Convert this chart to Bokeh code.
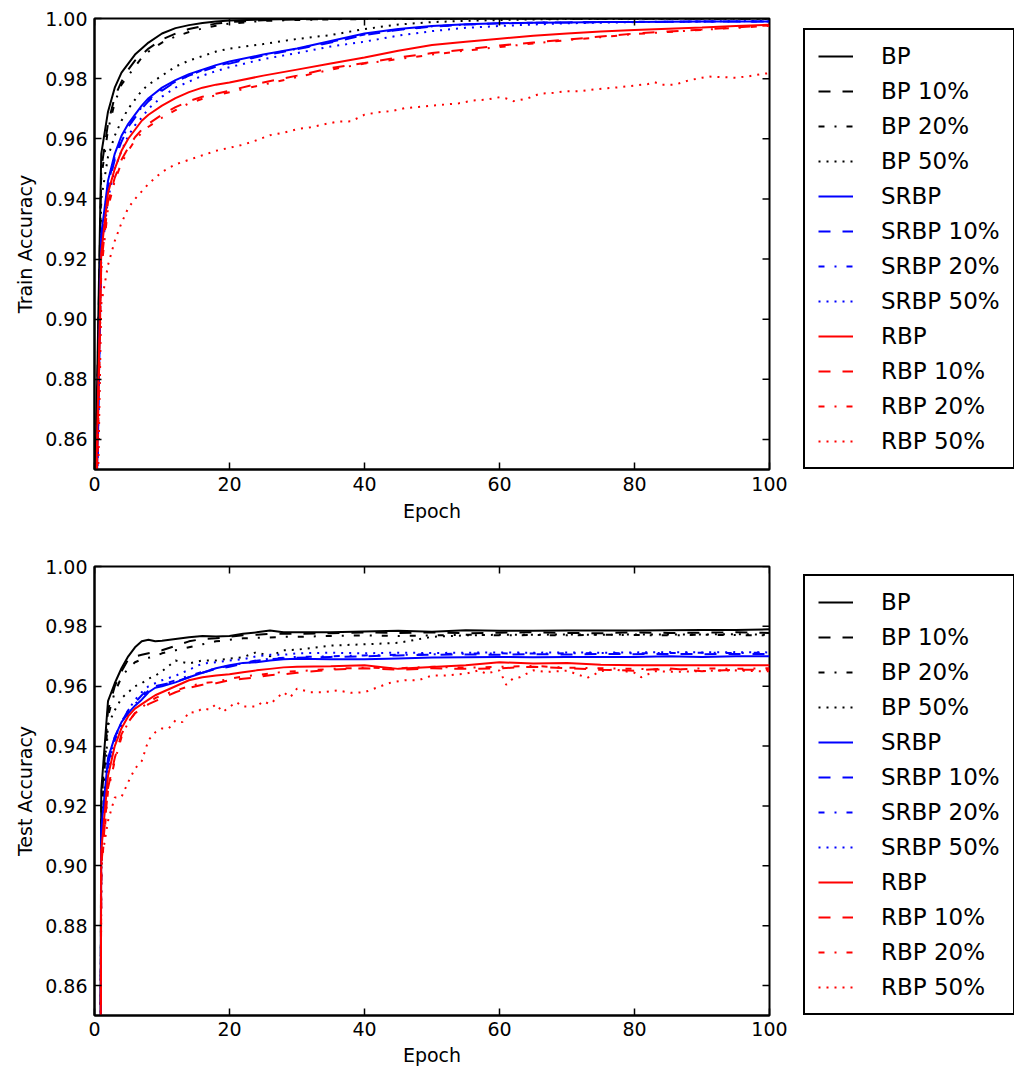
import math
from bokeh.plotting import figure
from bokeh.models import Range1d, FixedTicker, PrintfTickFormatter, Legend, LegendItem
from bokeh.layouts import column, row
from bokeh.embed import file_html
from bokeh.resources import INLINE

# ---------------- data ----------------
series_labels = ["BP", "BP 10%", "BP 20%", "BP 50%",
                 "SRBP", "SRBP 10%", "SRBP 20%", "SRBP 50%",
                 "RBP", "RBP 10%", "RBP 20%", "RBP 50%"]
x_ticks = [0, 20, 40, 60, 80, 100]
y_ticks = [0.86, 0.88, 0.90, 0.92, 0.94, 0.96, 0.98, 1.00]

# training accuracy (epochs shared by the first 11 series)
ep_train = [0, 1, 2, 3, 4, 5, 6, 7, 8, 10, 12, 14, 16, 18, 20, 25, 30, 35, 40,
            45, 50, 55, 60, 65, 70, 75, 80, 85, 90, 95, 100]
train_bp = [0.830, 0.955, 0.969, 0.977, 0.982, 0.985, 0.988, 0.990, 0.992, 0.995, 0.9968,
            0.9978, 0.9985, 0.9990, 0.9993, 0.9997, 0.9998, 0.9999, 0.9999, 0.9999, 0.9999,
            1.0, 1.0, 1.0, 1.0, 1.0, 1.0, 1.0, 1.0, 1.0, 1.0]
train_bp10 = [0.825, 0.950, 0.965, 0.974, 0.979, 0.983, 0.986, 0.988, 0.990, 0.993, 0.995,
              0.9965, 0.9975, 0.9983, 0.9988, 0.9994, 0.9997, 0.9998, 0.9999, 0.9999, 0.9999,
              1.0, 1.0, 1.0, 1.0, 1.0, 1.0, 1.0, 1.0, 1.0, 1.0]
train_bp20 = [0.820, 0.947, 0.963, 0.972, 0.978, 0.981, 0.984, 0.987, 0.989, 0.992, 0.994,
              0.9955, 0.9967, 0.9976, 0.9983, 0.9992, 0.9995, 0.9997, 0.9998, 0.9999, 0.9999,
              0.9999, 1.0, 1.0, 1.0, 1.0, 1.0, 1.0, 1.0, 1.0, 1.0]
train_bp50 = [0.810, 0.940, 0.954, 0.961, 0.966, 0.970, 0.973, 0.976, 0.978, 0.981, 0.984,
              0.986, 0.9875, 0.989, 0.990, 0.9915, 0.9932, 0.9945, 0.9965, 0.998, 0.9988,
              0.9992, 0.9995, 0.9997, 0.9998, 0.9998, 0.9999, 0.9999, 0.9999, 0.9999, 0.9999]
train_srbp = [0.800, 0.928, 0.946, 0.955, 0.961, 0.965, 0.968, 0.971, 0.9735, 0.977, 0.9795,
              0.9815, 0.983, 0.9845, 0.9857, 0.988, 0.990, 0.9925, 0.995, 0.9965, 0.9975,
              0.9981, 0.9984, 0.9986, 0.9987, 0.9988, 0.9988, 0.9989, 0.999, 0.999, 0.999]
train_srbp10 = [0.790, 0.925, 0.944, 0.953, 0.959, 0.964, 0.967, 0.970, 0.9725, 0.976, 0.979,
                0.981, 0.9825, 0.984, 0.985, 0.9877, 0.9898, 0.992, 0.9945, 0.9962, 0.9973,
                0.998, 0.9984, 0.9986, 0.9987, 0.9988, 0.9988, 0.9989, 0.999, 0.999, 0.999]
train_srbp20 = [0.790, 0.926, 0.945, 0.954, 0.960, 0.964, 0.9675, 0.9705, 0.973, 0.9765, 0.979,
                0.981, 0.9828, 0.9842, 0.9853, 0.9878, 0.9899, 0.9922, 0.9947, 0.9963, 0.9974,
                0.998, 0.9984, 0.9986, 0.9987, 0.9988, 0.9989, 0.9989, 0.999, 0.999, 0.999]
train_srbp50 = [0.780, 0.920, 0.940, 0.950, 0.956, 0.961, 0.9645, 0.967, 0.970, 0.974, 0.977,
                0.979, 0.981, 0.9825, 0.9838, 0.9865, 0.9885, 0.9907, 0.9923, 0.9943, 0.9958,
                0.9969, 0.9975, 0.998, 0.9984, 0.9986, 0.9988, 0.9989, 0.999, 0.9991, 0.9992]
train_rbp = [0.820, 0.922, 0.942, 0.950, 0.956, 0.960, 0.963, 0.966, 0.968, 0.971, 0.9735,
             0.9755, 0.977, 0.978, 0.9787, 0.981, 0.983, 0.985, 0.987, 0.9893, 0.9912,
             0.9923, 0.9933, 0.9943, 0.995, 0.9957, 0.9962, 0.9966, 0.997, 0.9975, 0.9979]
train_rbp10 = [0.810, 0.918, 0.939, 0.947, 0.953, 0.957, 0.9605, 0.963, 0.965, 0.968, 0.9705,
               0.9725, 0.974, 0.975, 0.976, 0.9787, 0.981, 0.9835, 0.9852, 0.987, 0.9885,
               0.9897, 0.991, 0.992, 0.993, 0.994, 0.995, 0.9957, 0.9963, 0.997, 0.9977]
train_rbp20 = [0.800, 0.916, 0.937, 0.946, 0.952, 0.956, 0.9595, 0.962, 0.964, 0.967, 0.9695,
               0.9718, 0.9733, 0.9745, 0.9755, 0.978, 0.9805, 0.983, 0.985, 0.9865, 0.988,
               0.9893, 0.9905, 0.9917, 0.9928, 0.9938, 0.9948, 0.9955, 0.9962, 0.9969, 0.9976]
ep_train_rbp50 = [0, 1, 2, 3, 4, 5, 6, 7, 8, 9, 10, 12, 14, 16, 18, 20, 22, 24, 26, 28, 30,
                  32, 34, 36, 38, 40, 42, 44, 46, 48, 50, 52, 54, 56, 58, 60, 61, 62, 64, 66,
                  68, 70, 72, 74, 76, 78, 80, 82, 83, 84, 86, 88, 90, 91, 93, 95, 97, 99, 100]
train_rbp50 = [0.780, 0.905, 0.918, 0.926, 0.932, 0.937, 0.940, 0.9425, 0.945, 0.947, 0.949,
               0.9515, 0.953, 0.9545, 0.956, 0.957, 0.958, 0.9595, 0.9612, 0.962, 0.9632,
               0.9638, 0.9648, 0.9657, 0.9658, 0.968, 0.9688, 0.9692, 0.9702, 0.9706, 0.971,
               0.9714, 0.9718, 0.9727, 0.973, 0.9738, 0.9734, 0.9725, 0.9733, 0.975, 0.9753,
               0.9758, 0.9758, 0.9764, 0.9768, 0.9772, 0.9777, 0.9782, 0.9788, 0.978, 0.978,
               0.9794, 0.9803, 0.9807, 0.9805, 0.9803, 0.9808, 0.9816, 0.9818]

# test accuracy
ep_test = [0, 1, 2, 3, 4, 5, 6, 7, 8, 9, 10, 12, 14, 16, 18, 20, 22, 24, 26, 28, 30,
           35, 40, 45, 50, 55, 60, 65, 70, 75, 80, 85, 90, 95, 100]
test_bp = [0.10, 0.925, 0.955, 0.961, 0.966, 0.970, 0.973, 0.975, 0.9755, 0.975, 0.9752,
           0.9758, 0.9764, 0.9768, 0.9766, 0.9768, 0.9775, 0.978, 0.9786, 0.978, 0.978,
           0.978, 0.9783, 0.9785, 0.9782, 0.9787, 0.9785, 0.9785, 0.9786, 0.9786, 0.9786,
           0.9787, 0.9788, 0.9788, 0.979]
test_bp10 = [0.10, 0.920, 0.952, 0.960, 0.965, 0.969, 0.970, 0.9705, 0.971, 0.9715, 0.972,
             0.9735, 0.975, 0.9758, 0.976, 0.9765, 0.977, 0.9772, 0.9775, 0.9775, 0.9775,
             0.9777, 0.978, 0.9778, 0.978, 0.9777, 0.9779, 0.978, 0.9778, 0.9777, 0.978,
             0.9778, 0.9779, 0.978, 0.9778]
test_bp20 = [0.10, 0.915, 0.950, 0.958, 0.963, 0.966, 0.968, 0.969, 0.9695, 0.970, 0.971,
             0.972, 0.973, 0.974, 0.975, 0.9755, 0.976, 0.9762, 0.9763, 0.9765, 0.9765,
             0.9768, 0.977, 0.9768, 0.977, 0.9772, 0.977, 0.9771, 0.977, 0.9772, 0.9771,
             0.977, 0.9772, 0.9771, 0.977]
test_bp50 = [0.10, 0.905, 0.947, 0.952, 0.956, 0.958, 0.960, 0.961, 0.9625, 0.9635, 0.965,
             0.9686, 0.9676, 0.9686, 0.9686, 0.9692, 0.9697, 0.9714, 0.970, 0.972, 0.9722,
             0.9736, 0.974, 0.9745, 0.9765, 0.977, 0.9772, 0.9772, 0.9773, 0.9772, 0.9773,
             0.9773, 0.9773, 0.9774, 0.9772]
test_srbp = [0.10, 0.912, 0.936, 0.943, 0.948, 0.951, 0.9535, 0.9555, 0.958, 0.9595, 0.960,
             0.9613, 0.963, 0.9645, 0.966, 0.967, 0.9678, 0.968, 0.9686, 0.969, 0.9692,
             0.969, 0.969, 0.9693, 0.9696, 0.9697, 0.9698, 0.9697, 0.9698, 0.9698, 0.9698,
             0.970, 0.9698, 0.970, 0.970]
test_srbp10 = [0.10, 0.908, 0.934, 0.943, 0.948, 0.952, 0.9545, 0.957, 0.959, 0.960, 0.9605,
               0.9615, 0.963, 0.9645, 0.9658, 0.9665, 0.9675, 0.9685, 0.969, 0.9693, 0.9695,
               0.9698, 0.970, 0.9703, 0.9705, 0.9706, 0.9705, 0.9707, 0.9706, 0.9708, 0.9707,
               0.9708, 0.9707, 0.9708, 0.9708]
test_srbp20 = [0.10, 0.906, 0.933, 0.942, 0.947, 0.951, 0.954, 0.9565, 0.9585, 0.9598, 0.9605,
               0.962, 0.9635, 0.9648, 0.966, 0.9668, 0.9677, 0.9686, 0.9692, 0.9695, 0.9698,
               0.970, 0.9703, 0.9705, 0.9707, 0.9709, 0.971, 0.9709, 0.971, 0.9711, 0.971,
               0.9711, 0.9712, 0.9711, 0.9712]
test_srbp50 = [0.10, 0.905, 0.932, 0.942, 0.948, 0.952, 0.9555, 0.958, 0.960, 0.961, 0.962,
               0.9635, 0.9655, 0.9676, 0.968, 0.9686, 0.969, 0.970, 0.9705, 0.9705, 0.971,
               0.9712, 0.971, 0.9712, 0.9711, 0.9712, 0.9713, 0.9712, 0.9713, 0.9712, 0.9713,
               0.9714, 0.9713, 0.9714, 0.9713]
test_rbp = [0.10, 0.905, 0.930, 0.940, 0.946, 0.950, 0.9525, 0.954, 0.9555, 0.957, 0.958,
            0.960, 0.962, 0.963, 0.9636, 0.964, 0.9647, 0.9653, 0.9658, 0.9663, 0.9665,
            0.9667, 0.967, 0.9658, 0.9664, 0.967, 0.968, 0.9676, 0.9678, 0.9672, 0.967,
            0.967, 0.967, 0.967, 0.967]
test_rbp10 = [0.10, 0.900, 0.926, 0.936, 0.944, 0.948, 0.951, 0.9525, 0.954, 0.955, 0.956,
              0.958, 0.9595, 0.9605, 0.961, 0.962, 0.9625, 0.963, 0.9637, 0.964, 0.9645,
              0.9655, 0.966, 0.9655, 0.966, 0.9658, 0.966, 0.9665, 0.966, 0.9655, 0.9652,
              0.966, 0.965, 0.9655, 0.9655]
test_rbp20 = [0.10, 0.898, 0.925, 0.935, 0.943, 0.948, 0.951, 0.953, 0.9545, 0.956, 0.957,
              0.9585, 0.960, 0.961, 0.9615, 0.9625, 0.9632, 0.9638, 0.9642, 0.9648, 0.965,
              0.9658, 0.9662, 0.966, 0.9665, 0.9662, 0.9665, 0.9668, 0.9662, 0.966, 0.9658,
              0.9655, 0.966, 0.9658, 0.966]
ep_test_rbp50 = [0, 1, 2, 3, 4, 5, 6, 7, 8, 9, 10, 11, 12, 13, 14, 15, 16, 17, 18, 19, 21,
                 22, 24, 25, 26, 28, 29, 30, 32, 34, 36, 38, 40, 42, 44, 46, 48, 50, 52, 55,
                 57, 58, 60, 61, 62, 63, 65, 67, 70, 73, 75, 77, 80, 81, 83, 86, 89, 92, 95,
                 98, 100]
test_rbp50 = [0.10, 0.901, 0.915, 0.9228, 0.923, 0.928, 0.9325, 0.935, 0.942, 0.9446, 0.9459,
              0.9459, 0.9486, 0.948, 0.9514, 0.9512, 0.9526, 0.9522, 0.954, 0.9514, 0.9547,
              0.9532, 0.9532, 0.955, 0.954, 0.958, 0.9563, 0.9592, 0.958, 0.958, 0.9586,
              0.9578, 0.958, 0.9597, 0.9613, 0.962, 0.962, 0.9636, 0.9636, 0.9642, 0.9653,
              0.9642, 0.9653, 0.9605, 0.9626, 0.963, 0.9653, 0.9648, 0.9652, 0.9628, 0.965,
              0.9656, 0.9645, 0.963, 0.965, 0.9648, 0.965, 0.9652, 0.9653, 0.965, 0.965]

train_series = [(ep_train, train_bp), (ep_train, train_bp10), (ep_train, train_bp20),
                (ep_train, train_bp50), (ep_train, train_srbp), (ep_train, train_srbp10),
                (ep_train, train_srbp20), (ep_train, train_srbp50), (ep_train, train_rbp),
                (ep_train, train_rbp10), (ep_train, train_rbp20), (ep_train_rbp50, train_rbp50)]
test_series = [(ep_test, test_bp), (ep_test, test_bp10), (ep_test, test_bp20),
               (ep_test, test_bp50), (ep_test, test_srbp), (ep_test, test_srbp10),
               (ep_test, test_srbp20), (ep_test, test_srbp50), (ep_test, test_rbp),
               (ep_test, test_rbp10), (ep_test, test_rbp20), (ep_test_rbp50, test_rbp50)]

# ---------------- style ----------------
FONT = "DejaVu Sans"
colors = ["#000000"] * 4 + ["#0000ff"] * 4 + ["#ff0000"] * 4
dashes = ["solid", "12 12", "6 10 2 10", "2 6"] * 3
LW = 2
PLOT_W = 790      # axes figure: 94 px left border + 675 px frame + 21 px right border
LEG_W = 1014 - PLOT_W


def style_axis(ax, tick_standoff, label_standoff):
    ax.major_tick_in = 7
    ax.major_tick_out = 0
    ax.minor_tick_in = 0
    ax.minor_tick_out = 0
    ax.major_tick_line_color = "black"
    ax.major_tick_line_width = 1.5
    ax.axis_line_color = "black"
    ax.axis_line_width = 2
    ax.major_label_text_font = FONT
    ax.major_label_text_font_size = "19px"
    ax.major_label_text_color = "black"
    ax.major_label_standoff = tick_standoff
    ax.axis_label_text_font = FONT
    ax.axis_label_text_font_size = "19px"
    ax.axis_label_text_font_style = "normal"
    ax.axis_label_text_color = "black"
    ax.axis_label_standoff = label_standoff


def build_plot(ylabel, series, height, top, bottom, xt_standoff, xl_standoff):
    p = figure(width=PLOT_W, height=height,
               x_range=Range1d(0, 100), y_range=Range1d(0.85, 1.0),
               output_backend="svg", toolbar_location=None,
               min_border_left=94, min_border_right=PLOT_W - 94 - 675,
               min_border_top=top, min_border_bottom=bottom)
    p.xgrid.visible = False
    p.ygrid.visible = False
    p.outline_line_color = "black"
    p.outline_line_width = 2
    p.outline_line_alpha = 1
    p.background_fill_color = "white"
    p.border_fill_color = "white"

    p.xaxis.ticker = FixedTicker(ticks=x_ticks)
    p.yaxis.ticker = FixedTicker(ticks=y_ticks)
    p.yaxis.formatter = PrintfTickFormatter(format="%.2f")
    p.xaxis.axis_label = "Epoch"
    p.yaxis.axis_label = ylabel
    style_axis(p.xaxis[0], xt_standoff, xl_standoff)
    style_axis(p.yaxis[0], 7, 6)

    for i, (xs, ys) in enumerate(series):
        p.line(xs, ys, line_color=colors[i], line_width=LW, line_dash=dashes[i])

    # inward ticks on the top and right edges (matplotlib classic style)
    x_end = p.x_range.end
    y_end = p.y_range.end
    p.ray(x=x_ticks, y=[y_end] * len(x_ticks), length=7, length_units="screen",
          angle=-math.pi / 2, line_color="black", line_width=1.5)
    p.ray(x=[x_end] * len(y_ticks), y=y_ticks, length=7, length_units="screen",
          angle=math.pi, line_color="black", line_width=1.5)
    return p


def build_legend(series, height, top, bottom):
    # legend panel to the right of the axes; the series are drawn here too but
    # lie outside this panel's view, so only the legend shows
    lp = figure(width=LEG_W, height=height, x_range=Range1d(0, 100), y_range=Range1d(2, 3),
                output_backend="svg", toolbar_location=None,
                x_axis_type=None, y_axis_type=None,
                min_border_left=803 - PLOT_W, min_border_right=0,
                min_border_top=top, min_border_bottom=bottom)
    lp.xgrid.visible = False
    lp.ygrid.visible = False
    lp.outline_line_color = None
    lp.background_fill_color = "white"
    lp.border_fill_color = "white"
    items = []
    for i, (xs, ys) in enumerate(series):
        r = lp.line(xs, ys, line_color=colors[i], line_width=LW, line_dash=dashes[i])
        items.append(LegendItem(label=series_labels[i], renderers=[r]))
    legend = Legend(items=items, location=(0, 0))
    legend.border_line_color = "black"
    legend.border_line_width = 2
    legend.border_line_alpha = 1
    legend.background_fill_color = "white"
    legend.background_fill_alpha = 1
    legend.padding = 13
    legend.margin = 0
    legend.spacing = 9
    legend.glyph_width = 35
    legend.glyph_height = 24
    legend.label_height = 24
    legend.label_standoff = 28
    legend.label_text_font = FONT
    legend.label_text_font_size = "23px"
    legend.label_text_color = "black"
    lp.add_layout(legend)
    return lp


p1 = build_plot("Train Accuracy", train_series, 540, 18, 71, 7, 6)
l1 = build_legend(train_series, 540, 18, 71)
p2 = build_plot("Test Accuracy", test_series, 531, 26, 56, 6, 5)
l2 = build_legend(test_series, 531, 26, 56)

layout = column(row(p1, l1), row(p2, l2))
open("out.html", "w").write(file_html(layout, INLINE))
